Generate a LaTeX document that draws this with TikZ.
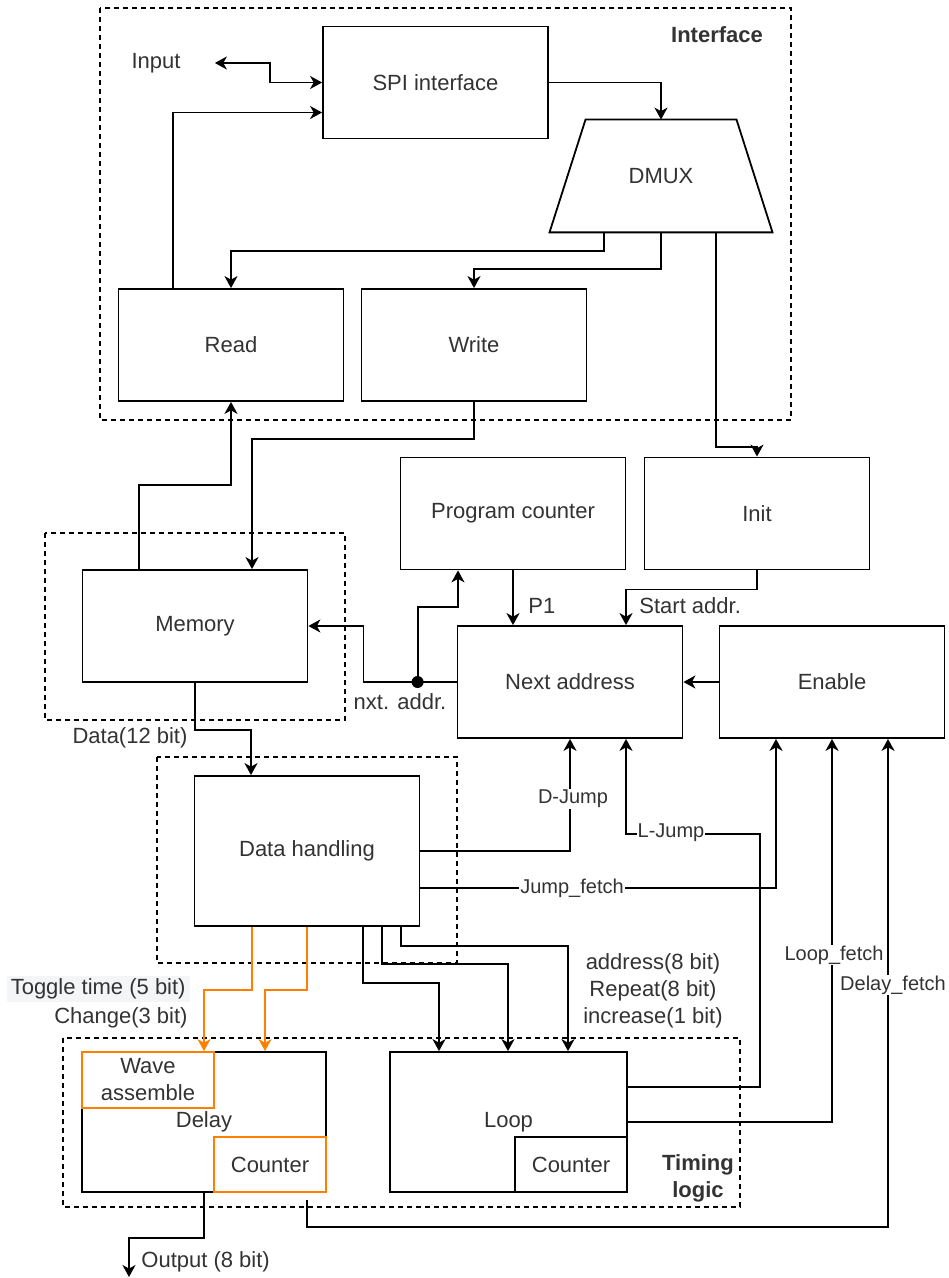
\documentclass[tikz,border=0pt]{standalone}
\usepackage{fontspec}
\setmainfont{Liberation Sans}
\usetikzlibrary{arrows.meta,calc}
\definecolor{txt}{HTML}{333333}
\definecolor{orng}{HTML}{FF8000}
\definecolor{lightbg}{HTML}{F4F5F7}
\begin{document}
\begin{tikzpicture}[x=0.5pt,y=-0.5pt,
  box/.style={draw=black, line width=0.9pt, minimum width=112.5pt, minimum height=56pt, inner sep=0pt, text=txt, font=\fontsize{11}{13.5}\selectfont},
  obox/.style={box, draw=orng},
  grp/.style={draw=black, line width=0.6pt, dash pattern=on 2.5pt off 2pt},
  tip/.style={-{Stealth[length=6pt,width=6.5pt,inset=1.8pt]}},
  conn/.style={draw=black, line width=0.9pt, tip},
  oconn/.style={conn, draw=orng, -{Stealth[length=6pt,width=6.5pt,inset=1.8pt,color=orng]}},
  lbl/.style={text=txt, inner sep=1pt, font=\fontsize{11}{13.5}\selectfont},
  blbl/.style={lbl, font=\fontsize{11}{13.5}\selectfont\bfseries},
  elbl/.style={lbl, fill=white, inner sep=0.5pt, font=\fontsize{10}{12}\selectfont}
]
\useasboundingbox (0,0) rectangle (948,1278);
\fill[white] (0,0) rectangle (948,1278);

% group frames
\draw[grp] (100,8) rectangle (791,420);
\draw[grp] (45,533) rectangle (345,720);
\draw[grp] (157,757) rectangle (457,963);
\draw[grp] (63,1038) rectangle (740,1207);

% blocks
\node[box] (spi) at (435.5,82.5) {SPI interface};
\node[lbl, minimum width=111.5pt, minimum height=56pt] (dmux) at (661,176) {DMUX};
\draw[line width=0.9pt] ($(dmux.north)+(-75.5,0)$) -- ($(dmux.north)+(75.5,0)$)
  -- ($(dmux.south)+(111.5,0)$) -- ($(dmux.south)+(-111.5,0)$) -- cycle;
\node[box] (read) at (231,345) {Read};
\node[box] (write) at (474,345) {Write};
\node[box] (pc) at (513,513.5) {Program counter};
\node[box] (init) at (757,513.5) {Init};
\node[box] (memory) at (195,626) {Memory};
\node[box] (next) at (570,682) {Next address};
\node[box] (enable) at (832,682) {Enable};
\node[box, minimum height=75pt] (dh) at (307,851) {Data handling};
\node[box, minimum width=122pt, minimum height=70pt] (delay) at (204,1122) {Delay};
\node[box, minimum width=118.5pt, minimum height=70pt] (loop) at (508.5,1122) {Loop};
\node[obox, minimum width=66pt, minimum height=28pt, align=center] (wave) at (148,1080) {Wave\\assemble};
\node[obox, minimum width=56pt, minimum height=27.5pt] (dcnt) at (270,1164.5) {Counter};
\node[box, minimum width=56pt, minimum height=27.5pt] (lcnt) at (571,1164.5) {Counter};

% labels
\node[lbl] (input) at (156,63) {Input};
\node[blbl] (iface) at (717,35) {Interface};
\node[blbl, align=center] (tlogic) at (698,1178) {Timing\\logic};
\node[lbl] (nxtl) at (400,702) {nxt. addr.};
\node[lbl, anchor=west] (p1l) at (526,606) {P1};
\node[lbl, anchor=west] (startl) at (637,606) {Start addr.};
\node[lbl] (datal) at (130,738) {Data(12 bit)};
\node[lbl, align=center] (arl) at (653,991) {address(8 bit)\\Repeat(8 bit)\\increase(1 bit)};
\node[lbl, anchor=east, fill=lightbg, inner xsep=2pt, inner ysep=1.5pt] (togl) at (190,989) {Toggle time (5 bit)};
\node[lbl, anchor=east] (chgl) at (190,1018) {Change(3 bit)};
\node[lbl, anchor=west] (outl) at (139,1262) {Output (8 bit)};

% interface connectors
\coordinate (inp) at ($(input.east)+(32,0)$);
\draw[conn, {Stealth[length=6pt,width=6.5pt,inset=1.8pt]}-{Stealth[length=6pt,width=6.5pt,inset=1.8pt]}]
  (inp) -- ++(55,0) |- (spi.west);
\draw[conn] ($(read.north west)+(55,0)$) |- ($(spi.west)+(0,30)$);
\draw[conn] (spi.east) -| (dmux.north);
\draw[conn] ($(dmux.south)+(-57,0)$) -- ++(0,19) -| (read.north);
\draw[conn] (dmux.south) -- ++(0,37) -| (write.north);
\draw[conn] ($(dmux.south)+(55,0)$) |- ($(init.north)+(0,-10)$) -- (init.north);

% memory connectors
\draw[conn] (write.south) -- ++(0,37) -| ($(memory.north)+(57,0)$);
\draw[conn] ($(memory.north)+(-56,0)$) -- ++(0,-84) -| (read.south);
\coordinate (j) at ($(next.west)+(-39,0)$);
\draw[conn] (next.west) -| ($(memory.east)+(55,0)$) -- (memory.east);
\draw[conn] (j) -- ++(0,-75) -| ($(pc.south)+(-55,0)$);
\fill (j) circle (3pt);
\draw[conn] (pc.south) -- (pc.south |- next.north);
\draw[conn] (init.south) -- ++(0,19) -| ($(next.north)+(56,0)$);
\draw[conn] (enable.west) -- (next.east);
\draw[conn] (memory.south) -- ++(0,47) -| ($(dh.north)+(-56,0)$);

% data handling outputs
\draw[conn] (dh.east) -| (next.south);
\draw[conn] ($(dh.east)+(0,37)$) -| ($(enable.south)+(-56,0)$);
\draw[conn] ($(dh.south)+(94,0)$) -- ++(0,19) -| ($(loop.north)+(59.5,0)$);
\draw[conn] ($(dh.south)+(75,0)$) -- ++(0,37) -| ($(loop.north)+(-0.5,0)$);
\draw[conn] ($(dh.south)+(56,0)$) -- ++(0,56) -| ($(loop.north)+(-69.5,0)$);
\draw[oconn] ($(dh.south)+(-55,0)$) -- ++(0,63) -| (delay.north);
\draw[oconn] (dh.south) -- ++(0,63) -| ($(delay.north)+(61,0)$);

% timing logic outputs
\draw[conn] ($(loop.east)+(0,-35)$) -- ++(132,0) |- ($(next.south)+(56,95)$) -- ($(next.south)+(56,0)$);
\draw[conn] (loop.east) -| (enable.south);
\draw[conn] ($(dcnt.south)+(37,7)$) -- ++(0,27) -| ($(enable.south)+(56,0)$);
\coordinate (out) at (129,1277);
\draw[conn] (delay.south) -- ++(0,45) -| (out);

% connector labels
\node[elbl] (djl) at (573,799) {D-Jump};
\node[elbl] (ljl) at (671,833) {L-Jump};
\node[elbl] (jfl) at (572,888) {Jump\_fetch};
\node[elbl] (lfl) at (834,955) {Loop\_fetch};
\node[elbl] (dfl) at (893,985) {Delay\_fetch};
\end{tikzpicture}
\end{document}
